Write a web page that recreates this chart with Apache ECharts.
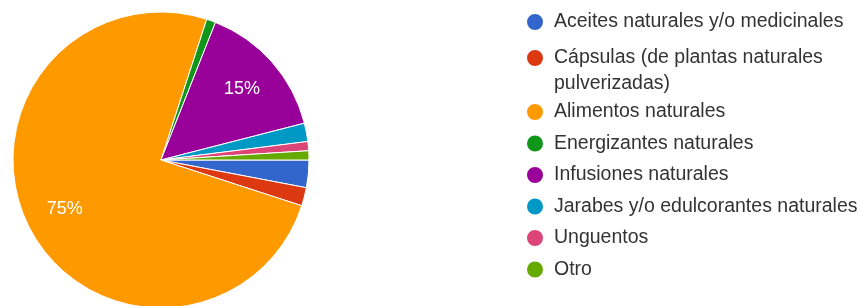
<!DOCTYPE html>
<html lang="es">
<head>
    <meta charset="UTF-8">
    <title>Productos naturales</title>
    <script src="https://cdn.jsdelivr.net/npm/echarts@6/dist/echarts.min.js"></script>
    <style>
        html, body { margin: 0; padding: 0; background: #fff; }
        #chart { width: 863px; height: 306px; }
    </style>
</head>
<body>
<div id="chart"></div>
<script>
    // categorías y porcentajes
    const categories = [
        'Aceites naturales y/o medicinales',
        'Cápsulas (de plantas naturales pulverizadas)',
        'Alimentos naturales',
        'Energizantes naturales',
        'Infusiones naturales',
        'Jarabes y/o edulcorantes naturales',
        'Unguentos',
        'Otro'
    ];
    const values = [3, 2, 75, 1, 15, 2, 1, 1];
    const colors = ['#3366cc', '#dc3912', '#ff9900', '#109618', '#990099', '#0099c6', '#dd4477', '#66aa00'];

    const font = '"Liberation Sans", Arial, sans-serif';
    const pieData = categories.map((name, i) => ({ name: name, value: values[i], itemStyle: { color: colors[i] } }));

    const legendText = {
        fontFamily: font,
        fontSize: 19.5,
        color: '#333',
        lineHeight: 26,
        padding: [0, 0, 0, 5]
    };
    const legendBase = {
        orient: 'vertical',
        left: 525,
        padding: 0,
        icon: 'circle',
        itemWidth: 18,
        itemHeight: 18,
        selectedMode: false,
        textStyle: legendText
    };

    const chart = echarts.init(document.getElementById('chart'));
    chart.setOption({
        animation: false,
        legend: [
            Object.assign({}, legendBase, { top: 9, data: [categories[0]] }),
            Object.assign({}, legendBase, {
                top: 19,
                data: [categories[1]],
                // línea vacía arriba para que el icono quede junto a la primera línea
                formatter: () => '\nCápsulas (de plantas naturales\npulverizadas)'
            }),
            Object.assign({}, legendBase, { top: 99, itemGap: 5.5, data: categories.slice(2) })
        ],
        series: [
            {
                type: 'pie',
                center: [161, 160],
                radius: 148,
                startAngle: 0,
                clockwise: true,
                avoidLabelOverlap: false,
                label: { show: false },
                labelLine: { show: false },
                itemStyle: { borderColor: '#fff', borderWidth: 1 },
                emphasis: { disabled: true },
                data: pieData
            },
            {
                // solo etiquetas de porcentaje
                type: 'pie',
                center: [161, 160],
                radius: [62, 148],
                startAngle: 0,
                clockwise: true,
                silent: true,
                avoidLabelOverlap: false,
                itemStyle: { color: 'transparent', borderWidth: 0 },
                label: {
                    show: true,
                    position: 'inside',
                    fontFamily: font,
                    fontSize: 18,
                    color: '#fff',
                    formatter: p => p.percent >= 5 ? Math.round(p.percent) + '%' : ''
                },
                labelLine: { show: false },
                emphasis: { disabled: true },
                data: categories.map((name, i) => ({ name: name, value: values[i] }))
            }
        ]
    });
</script>
</body>
</html>
